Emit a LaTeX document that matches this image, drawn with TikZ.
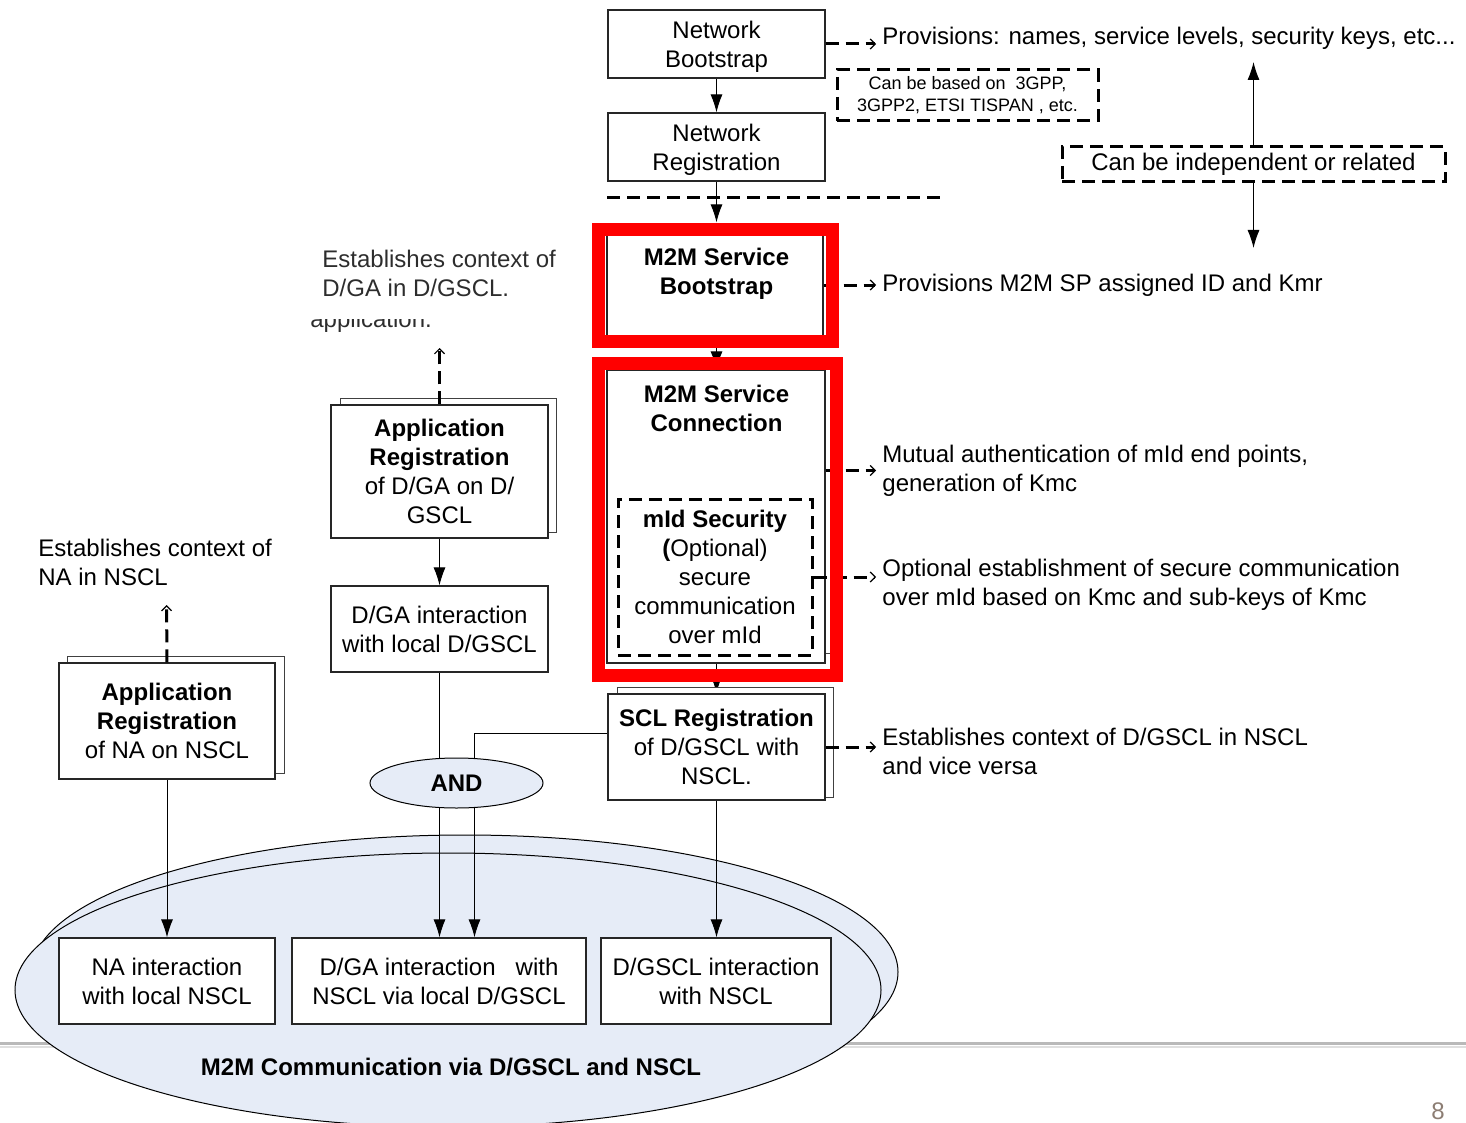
\documentclass[tikz,border=0pt]{standalone}
\usepackage{fontspec}
\setmainfont{Liberation Sans}
\usetikzlibrary{arrows.meta,shapes.geometric}
\pgfdeclarelayer{back}
\pgfdeclarelayer{wires}
\pgfsetlayers{back,wires,main}

\definecolor{commfill}{RGB}{230,236,247}
\definecolor{m2mred}{RGB}{255,0,0}
\definecolor{pagegray}{RGB}{140,125,115}
\definecolor{softtext}{RGB}{45,45,45}

\tikzset{
  txt/.style={font=\fontsize{12}{14.5}\selectfont, align=center, inner sep=0pt},
  boldtxt/.style={txt, font=\fontsize{12}{14.5}\selectfont\bfseries, text depth=0pt},
  rtext/.style={txt, align=left, anchor=west},
  procbox/.style={txt, draw=black!85, line width=0.6pt, fill=white, text depth=0pt},
  shadowbox/.style={draw=black!75, line width=0.5pt, fill=white, inner sep=0pt},
  dashbox/.style={txt, draw=black, line width=1.5pt, dash pattern=on 6.5pt off 3.5pt},
  flowarrow/.style={line width=0.5pt, -{Latex[length=9pt,width=6pt]}},
  notearrow/.style={line width=1.5pt, dash pattern=on 6.5pt off 3.5pt,
    -{Straight Barb[length=2.5pt,width=5pt,line width=0.6pt]}, shorten >=3pt},
  dashline/.style={line width=1.5pt, dash pattern=on 6.5pt off 3.5pt},
  commell/.style={ellipse, draw=black, line width=0.5pt, fill=commfill, inner sep=0pt,
    minimum width=433pt, minimum height=137pt},
  redframe/.style={draw=m2mred, line width=6.5pt},
}

\begin{document}
\begin{tikzpicture}[x=0.5pt,y=-0.5pt]
\useasboundingbox (0,0) rectangle (1466,1123);

% footer rule and the communication area
\begin{pgfonlayer}{back}
  \draw[gray!55, line width=1.5pt] (0,1043) -- (1466,1043);
  \draw[gray!25, line width=1pt] (0,1046.5) -- (1466,1046.5);
  \node[commell] (commB) at (465,972) {};
  \node[commell] (commF) at (448,990) {};
\end{pgfonlayer}

% network level
\node[procbox, minimum width=108.5pt, minimum height=34pt] (nb) at (716.5,44) {Network\\Bootstrap};
\node[procbox, minimum width=108.5pt, minimum height=34pt] (nr) at (716.5,147) {Network\\Registration};
\coordinate (sepL) at (607,198);
\coordinate (sepR) at (947,198);
\draw[dashline] (sepL) -- (sepR);

\node[dashbox, font=\fontsize{9}{11}\selectfont, minimum width=130.5pt, minimum height=25.5pt] (cbb) at (967.5,95.5)
  {Can be based on\ \ 3GPP,\\3GPP2, ETSI TISPAN , etc.};
\node[dashbox, minimum width=191.5pt, minimum height=17.5pt] (cbi) at (1253.5,164.5) {Can be independent or related};

% M2M service bootstrap
\node[shadowbox, minimum width=108pt, minimum height=52pt] (msbS) at (719,285) {};
\node[procbox, minimum width=108pt, minimum height=52pt] (msb) at (715,285) {};
\node[boldtxt] (msbt) at (716.5,271) {M2M Service\\Bootstrap};

% M2M service connection
\node[shadowbox, minimum width=104.5pt, minimum height=144.5pt] (mscS) at (725.5,508.5) {};
\node[procbox, minimum width=109pt, minimum height=146.5pt] (msc) at (716,516.5) {};
\node[boldtxt] (msct) at (716.5,408) {M2M Service\\Connection};
\node[dashbox, fill=white, minimum width=97pt, minimum height=78pt] (mid) at (715,577)
  {\textbf{mId Security}\\\textbf{(}Optional)\\secure\\communication\\over mId};

% SCL registration
\node[shadowbox, minimum width=108pt, minimum height=55pt] (sclS) at (725,742) {};
\node[procbox, minimum width=108.5pt, minimum height=53pt] (scl) at (716.5,747)
  {\textbf{SCL Registration}\\of D/GSCL with\\NSCL.};

% application registrations
\node[shadowbox, minimum width=108pt, minimum height=67pt] (adgaS) at (448,465) {};
\node[procbox, minimum width=108.5pt, minimum height=66.5pt] (adga) at (439.5,471.5)
  {\textbf{Application}\\\textbf{Registration}\\of D/GA on D/\\GSCL};
\node[procbox, minimum width=108.5pt, minimum height=43pt] (dgal) at (439.5,629)
  {D/GA interaction\\with local D/GSCL};

\node[shadowbox, minimum width=108.5pt, minimum height=58.5pt] (anaS) at (175.5,714.5) {};
\node[procbox, minimum width=108pt, minimum height=58pt] (ana) at (167,721)
  {\textbf{Application}\\\textbf{Registration}\\of NA on NSCL};

\node[boldtxt, ellipse, draw=black, line width=0.5pt, fill=commfill, minimum width=86.5pt, minimum height=25pt]
  (and) at (456.5,783) {AND};

% interactions
\node[procbox, minimum width=108pt, minimum height=43pt] (nai) at (167,981) {NA interaction\\with local NSCL};
\node[procbox, minimum width=147pt, minimum height=43pt] (dgai) at (439,981) {D/GA interaction\ \ \ with\\NSCL via local D/GSCL};
\node[procbox, minimum width=115pt, minimum height=43pt] (dgsi) at (716,981) {D/GSCL interaction\\with NSCL};
\node[boldtxt] (commlabel) at (451,1067) {M2M Communication via D/GSCL and NSCL};

% annotations
\node[rtext] (t1) at (882,38) {Provisions: names, service levels, security keys, etc...};
\node[rtext] (t2) at (882,285) {Provisions M2M SP assigned ID and Kmr};
\node[rtext] (t3) at (882,470.5) {Mutual authentication of mId end points,\\generation of Kmc};
\node[rtext] (t4) at (882,585) {Optional establishment of secure communication\\over mId based on Kmc and sub-keys of Kmc};
\node[rtext] (t5) at (882,751) {Establishes context of D/GSCL in NSCL\\and vice versa};
\node[rtext, text=softtext] (t6) at (322,273) {Establishes context of\\D/GA in D/GSCL.};
\node[rtext] (t7) at (38,562) {Establishes context of\\NA in NSCL};
\begin{scope}
  \clip (300,319) rectangle (445,336);
  \node[txt, anchor=base west, text=softtext] (appl) at (310,327) {application.};
\end{scope}
\node[txt, text=pagegray] (pagenum) at (1438,1111) {8};

% flow connectors
\begin{pgfonlayer}{wires}
  \draw[flowarrow] (nb.south) -- (nr.north);
  \draw[flowarrow, shorten >=5pt] (nr.south) -- (nr.south |- msb.north);
  \draw[flowarrow] (nr.south |- msb.south) -- (nr.south |- msc.north);
  \draw[flowarrow] (nr.south |- msc.south) -- (scl.north);
  \draw[flowarrow] (scl.south) -- (scl.south |- dgsi.north);
  \draw[flowarrow] (adga.south) -- (dgal.north);
  \draw[flowarrow] (dgal.south) -- (dgal.south |- dgai.north);
  \coordinate (sclTap) at (474.5,733);
  \draw[flowarrow] (scl.west |- sclTap) -- (sclTap) -- (sclTap |- dgai.north);
  \draw[flowarrow] (ana.south) -- (ana.south |- nai.north);
\end{pgfonlayer}

\coordinate (cbiTop) at (1253.5,62);
\coordinate (cbiBot) at (1253.5,248);
\draw[flowarrow] (cbi.north) -- (cbiTop);
\draw[flowarrow] (cbi.south) -- (cbiBot);

% annotation connectors
\coordinate (adgaUp) at (439.5,342);
\coordinate (anaUp) at (166.5,599);
\draw[notearrow] (adga.north) -- (adgaUp);
\draw[notearrow] (ana.north) -- (anaUp);
\draw[notearrow] (nb.east) -- (nb.east -| t1.west);
\draw[notearrow] (msb.east) -- (msb.east -| t2.west);
\draw[notearrow] (msc.east |- t3.west) -- (t3.west);
\draw[notearrow] (mid.east) -- (mid.east -| t4.west);
\draw[notearrow] (scl.east) -- (scl.east -| t5.west);

% highlight frames
\draw[redframe] (598.5,229.5) rectangle (832.5,341.5);
\draw[redframe] (598.5,363.5) rectangle (836.5,675.5);
\end{tikzpicture}
\end{document}
